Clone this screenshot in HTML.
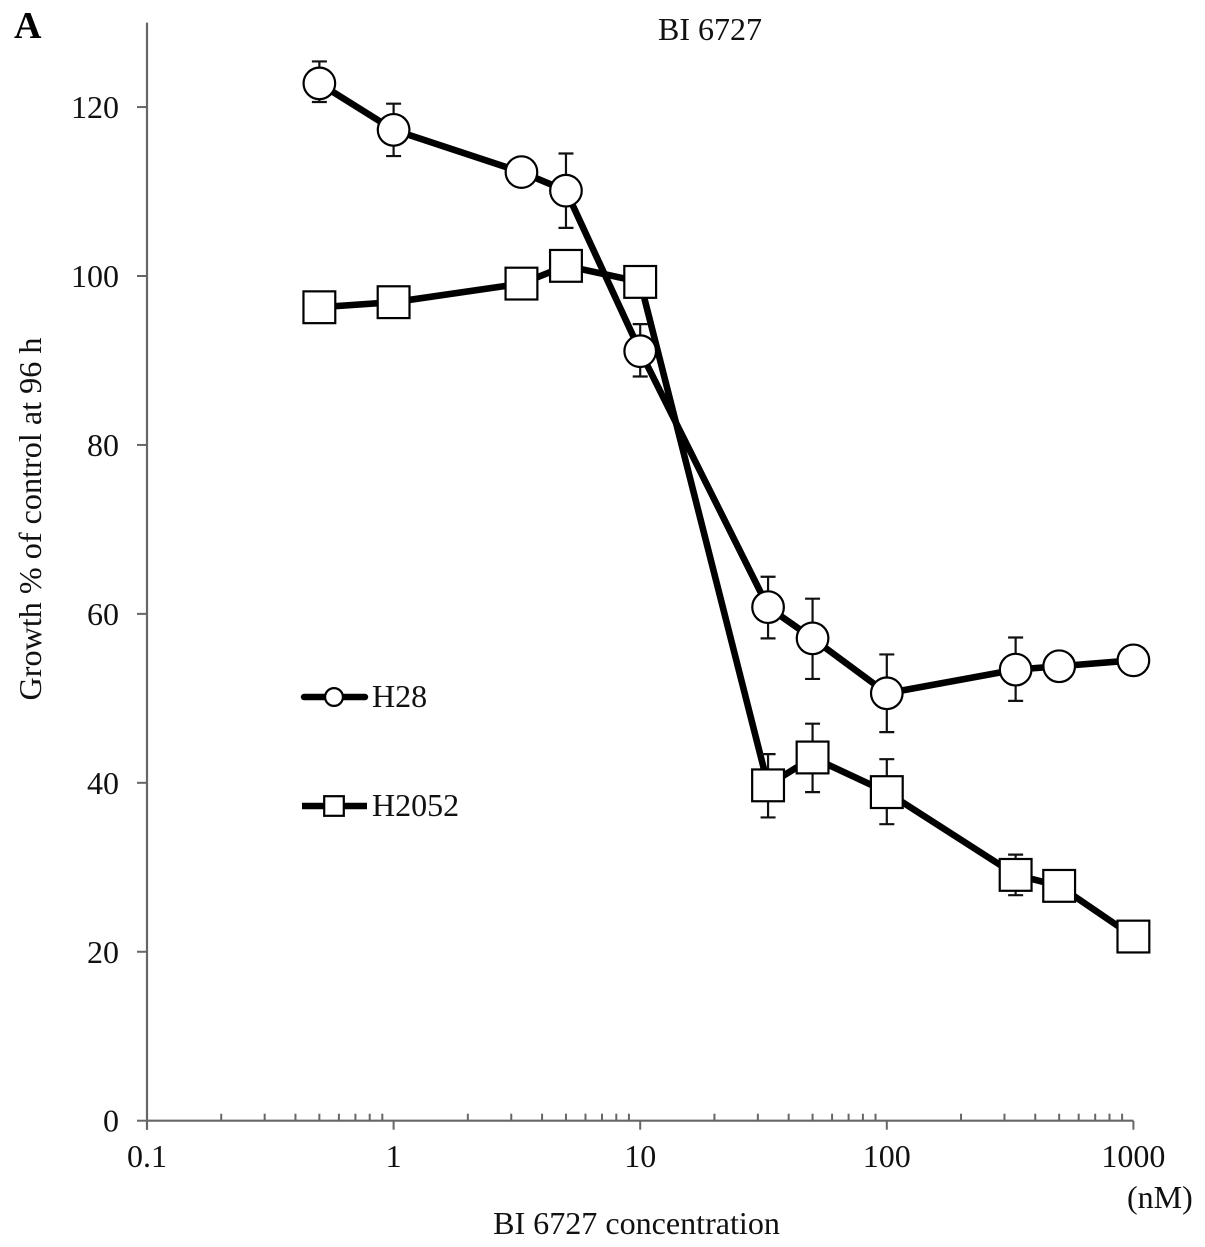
<!DOCTYPE html>
<html>
<head>
<meta charset="utf-8">
<title>BI 6727 growth chart</title>
<style>
html,body{margin:0;padding:0;background:#fff;}
svg{display:block;}
text{font-family:"Liberation Serif",serif;fill:#111;}
</style>
</head>
<body>
<svg id="chart" width="1205" height="1247" viewBox="0 0 1205 1247" xmlns="http://www.w3.org/2000/svg">
<text x="14" y="38" font-size="38" font-weight="bold" style="fill:#000">A</text>
<text x="710" y="40" font-size="32" text-anchor="middle">BI 6727</text>
<text transform="translate(41 519) rotate(-90)" font-size="32.2" text-anchor="middle">Growth % of control at 96 h</text>
<text x="636.5" y="1234" font-size="32.1" text-anchor="middle">BI 6727 concentration</text>
<text x="1127" y="1208" font-size="32">(nM)</text>
<g id="axes"></g>
<g id="lines"></g>
<g id="errors"></g>
<g id="markers"></g>
<g>
  <g>
    <line x1="304" y1="697" x2="365" y2="697" stroke="#000" stroke-width="6.4" stroke-linecap="round"/>
    <circle cx="334" cy="697" r="8.9" fill="#fff" stroke="#000" stroke-width="2.2"/>
    <text x="372" y="707" font-size="32">H28</text>
  </g>
  <g>
    <line x1="302" y1="806" x2="367" y2="806" stroke="#000" stroke-width="6.4"/>
    <rect x="324.2" y="796.2" width="19.6" height="19.6" fill="#fff" stroke="#000" stroke-width="2.2"/>
    <text x="372" y="816" font-size="32">H2052</text>
  </g>
</g>
</svg>
<script>
const concentrations = [0.5, 1, 3.3, 5, 10, 33, 50, 100, 333, 500, 1000];
const h28Values = [122.8, 117.3, 112.3, 110.1, 91.1, 60.8, 57.1, 50.6, 53.4, 53.8, 54.5];
const h28Upper = [125.4, 120.4, null, 114.5, 94.3, 64.4, 61.8, 55.2, 57.2, null, null];
const h28Lower = [120.6, 114.2, null, 105.7, 88.1, 57.1, 52.3, 46.0, 49.7, null, null];
const h2052Values = [96.3, 96.9, 99.1, 101.2, 99.3, 39.7, 43.0, 38.9, 29.1, 27.8, 21.8];
const h2052Upper = [null, null, null, null, null, 43.4, 47.0, 42.8, 31.5, null, null];
const h2052Lower = [null, null, null, null, null, 35.9, 38.9, 35.1, 26.7, null, null];
const yTicks = [0, 20, 40, 60, 80, 100, 120];
const xMajorTicks = [0.1, 1, 10, 100, 1000];
const xMinorMultiples = [2, 3, 4, 5, 6, 7, 8, 9];

const NS = 'http://www.w3.org/2000/svg';
const xOrigin = 147, xDecade = 246.6;
const yOrigin = 1120.7, yUnit = 8.447;
const yAxisMax = 130;
const axisColor = '#666';

function xScale(v) { return xOrigin + (Math.log10(v) + 1) * xDecade; }
function yScale(v) { return yOrigin - v * yUnit; }

function make(tag, attrs, parent) {
  const el = document.createElementNS(NS, tag);
  for (const k in attrs) el.setAttribute(k, attrs[k]);
  parent.appendChild(el);
  return el;
}

const axes = document.getElementById('axes');
const linesG = document.getElementById('lines');
const errorsG = document.getElementById('errors');
const markersG = document.getElementById('markers');

const yAxis = make('line', {x1: xOrigin, y1: yScale(yAxisMax), x2: xOrigin, y2: yOrigin + 9, stroke: axisColor, 'stroke-width': 2.2}, axes);


const xAxis = make('line', {x1: xOrigin, y1: yOrigin, x2: xScale(1000), y2: yOrigin, stroke: axisColor, 'stroke-width': 2.2}, axes);



yTicks.forEach(function (t) {
  const tick = make('line', {x1: xOrigin - 10, y1: yScale(t), x2: xOrigin, y2: yScale(t), stroke: axisColor, 'stroke-width': 2}, axes);
  
  
  const label = make('text', {x: 119, y: yScale(t) + 11, 'font-size': 32, 'text-anchor': 'end'}, axes);
  label.textContent = String(t);
  
  
});

xMajorTicks.forEach(function (t, i) {
  const tick = make('line', {x1: xScale(t), y1: yOrigin, x2: xScale(t), y2: yOrigin + 9, stroke: axisColor, 'stroke-width': 2}, axes);
  
  
  const label = make('text', {x: xScale(t), y: 1167, 'font-size': 32, 'text-anchor': 'middle'}, axes);
  label.textContent = String(t);
  
  
  if (i < xMajorTicks.length - 1) {
    xMinorMultiples.forEach(function (m) {
      const minor = make('line', {x1: xScale(t * m), y1: yOrigin - 7, x2: xScale(t * m), y2: yOrigin, stroke: axisColor, 'stroke-width': 2}, axes);
      
      
    });
  }
});

function drawLine(values, name) {
  const pts = values.map(function (v, i) { return xScale(concentrations[i]) + ',' + yScale(v); }).join(' ');
  const line = make('polyline', {points: pts, fill: 'none', stroke: '#000', 'stroke-width': 6.6, 'stroke-linejoin': 'round'}, linesG);
  
  
}

function drawErrors(upper, lower) {
  upper.forEach(function (u, i) {
    if (u === null) return;
    const x = xScale(concentrations[i]);
    const d = 'M' + x + ' ' + yScale(u) + 'V' + yScale(lower[i]) +
      'M' + (x - 7.5) + ' ' + yScale(u) + 'H' + (x + 7.5) +
      'M' + (x - 7.5) + ' ' + yScale(lower[i]) + 'H' + (x + 7.5);
    const bar = make('path', {d: d, fill: 'none', stroke: '#111', 'stroke-width': 2.2}, errorsG);
    
    
  });
}

drawLine(h2052Values, 'h2052-line');
drawLine(h28Values, 'h28-line');
drawErrors(h2052Upper, h2052Lower);
drawErrors(h28Upper, h28Lower);

h28Values.forEach(function (v, i) {
  const c = make('circle', {cx: xScale(concentrations[i]), cy: yScale(v), r: 15.8, fill: '#fff', stroke: '#000', 'stroke-width': 2.2}, markersG);
  
  
});
h2052Values.forEach(function (v, i) {
  const r = make('rect', {x: xScale(concentrations[i]) - 15.9, y: yScale(v) - 15.9, width: 31.8, height: 31.8, fill: '#fff', stroke: '#000', 'stroke-width': 2.2}, markersG);
  
  
});
</script>
</body>
</html>
